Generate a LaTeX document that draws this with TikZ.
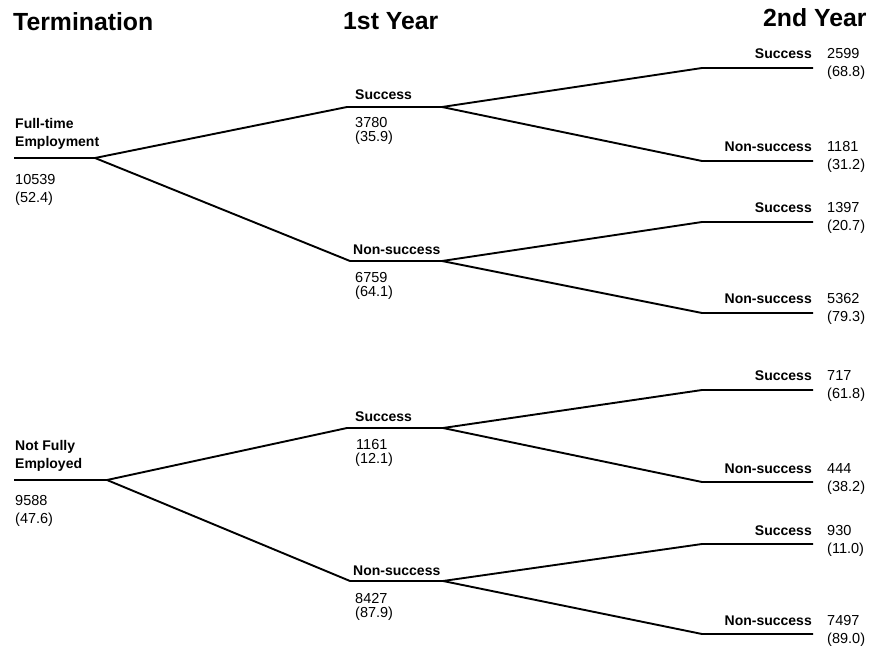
\documentclass[tikz,border=0pt]{standalone}
\usepackage{fontspec}
\setmainfont{Liberation Sans}
\tikzset{
  branch/.style={line width=1.9pt, line join=round},
  lbl/.style={inner sep=0pt, font=\fontsize{14}{16}\selectfont\bfseries},
  num/.style={inner sep=0pt, font=\fontsize{14.5}{16}\selectfont},
  ttl/.style={inner sep=0pt, font=\fontsize{24.8}{28}\selectfont\bfseries, anchor=base west}
}
% leaf: name, y, label, count, percent
\newcommand{\mkleaf}[5]{%
  \coordinate (#1a) at (702,#2);
  \coordinate (#1b) at (813,#2);
  \node[lbl, anchor=base east] (#1l) at (812,#2-9) {#3};
  \node[num, anchor=base west] (#1n) at (827,#2-9) {#4};
  \node[num, anchor=base west] (#1p) at (827,#2+9) {#5};
}
\begin{document}
\begin{tikzpicture}[x=1pt,y=-1pt]
\useasboundingbox (0,0) rectangle (879,647);

% titles
\node[ttl] (t1) at (13,31) {Termination};
\node[ttl] (t2) at (343,30) {1st Year};
\node[ttl] (t3) at (763,27) {2nd Year};

% ---------- top tree ----------
\coordinate (T0a) at (14,158);
\coordinate (T0b) at (95,158);
\node[lbl, anchor=base west] (T0l1) at (15,129) {Full-time};
\node[lbl, anchor=base west] (T0l2) at (15,147) {Employment};
\node[num, anchor=base west] (T0n) at (15,185) {10539};
\node[num, anchor=base west] (T0p) at (15,203) {(52.4)};

\coordinate (TSa) at (347,107);
\coordinate (TSb) at (442,107);
\node[lbl, anchor=base west] (TSl) at (355,100) {Success};
\node[num, anchor=base west] (TSn) at (355,128) {3780};
\node[num, anchor=base west] (TSp) at (355,142) {(35.9)};

\coordinate (TNa) at (350,261);
\coordinate (TNb) at (442,261);
\node[lbl, anchor=base west] (TNl) at (353,255) {Non-success};
\node[num, anchor=base west] (TNn) at (355,283) {6759};
\node[num, anchor=base west] (TNp) at (355,297) {(64.1)};

\mkleaf{TSS}{68}{Success}{2599}{(68.8)}
\mkleaf{TSN}{161}{Non-success}{1181}{(31.2)}
\mkleaf{TNS}{222}{Success}{1397}{(20.7)}
\mkleaf{TNN}{313}{Non-success}{5362}{(79.3)}

\draw[branch] (T0a) -- (T0b) -- (TSa) -- (TSb);
\draw[branch] (T0b) -- (TNa) -- (TNb);
\draw[branch] (TSb) -- (TSSa) -- (TSSb);
\draw[branch] (TSb) -- (TSNa) -- (TSNb);
\draw[branch] (TNb) -- (TNSa) -- (TNSb);
\draw[branch] (TNb) -- (TNNa) -- (TNNb);

% ---------- bottom tree ----------
\coordinate (B0a) at (14,480);
\coordinate (B0b) at (107,480);
\node[lbl, anchor=base west] (B0l1) at (15,450) {Not Fully};
\node[lbl, anchor=base west] (B0l2) at (15,468) {Employed};
\node[num, anchor=base west] (B0n) at (15,505) {9588};
\node[num, anchor=base west] (B0p) at (15,523) {(47.6)};

\coordinate (BSa) at (347,428);
\coordinate (BSb) at (443,428);
\node[lbl, anchor=base west] (BSl) at (355,421) {Success};
\node[num, anchor=base west] (BSn) at (356,449) {1161};
\node[num, anchor=base west] (BSp) at (355,463) {(12.1)};

\coordinate (BNa) at (350,581);
\coordinate (BNb) at (443,581);
\node[lbl, anchor=base west] (BNl) at (353,575) {Non-success};
\node[num, anchor=base west] (BNn) at (355,603) {8427};
\node[num, anchor=base west] (BNp) at (355,617) {(87.9)};

\mkleaf{BSS}{390}{Success}{717}{(61.8)}
\mkleaf{BSN}{482}{Non-success}{444}{(38.2)}
\mkleaf{BNS}{544}{Success}{930}{(11.0)}
\mkleaf{BNN}{634}{Non-success}{7497}{(89.0)}

\draw[branch] (B0a) -- (B0b) -- (BSa) -- (BSb);
\draw[branch] (B0b) -- (BNa) -- (BNb);
\draw[branch] (BSb) -- (BSSa) -- (BSSb);
\draw[branch] (BSb) -- (BSNa) -- (BSNb);
\draw[branch] (BNb) -- (BNSa) -- (BNSb);
\draw[branch] (BNb) -- (BNNa) -- (BNNb);
\end{tikzpicture}
\end{document}
